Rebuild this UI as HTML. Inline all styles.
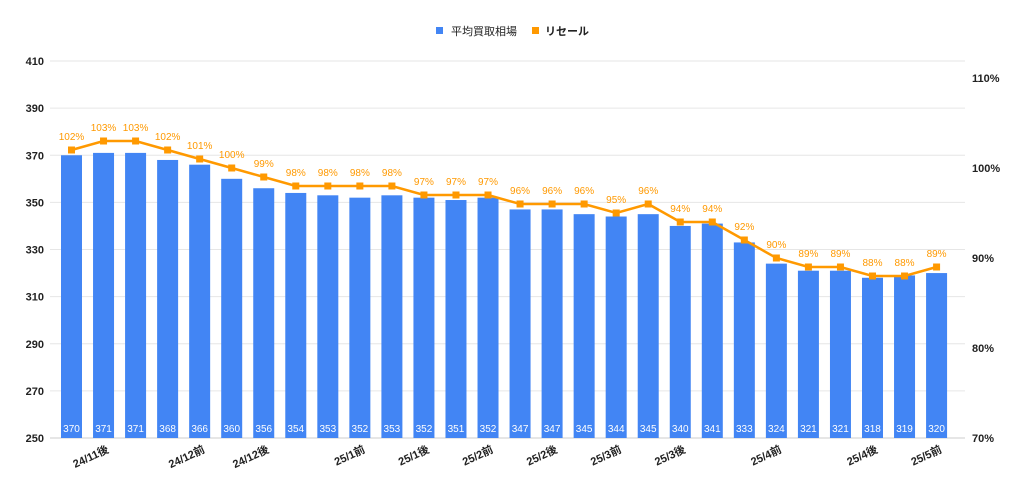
<!DOCTYPE html>
<html><head><meta charset="utf-8"><style>
body{margin:0;background:#fff;width:1024px;height:496px;overflow:hidden}
svg{font-family:"Liberation Sans","Noto Sans CJK JP",sans-serif}
</style></head><body>
<svg id="c" width="1024" height="496"></svg>
<script>
const categories=["24/11前","24/11後","24/11後2","24/12前1","24/12前","24/12前2","24/12後","24/12後2","25/1前1","25/1前","25/1前2","25/1後","25/1後2","25/2前","25/2前2","25/2後","25/2後2","25/3前","25/3前2","25/3後","25/3後2","25/4前1","25/4前","25/4前2","25/4後1","25/4後","25/4後2","25/5前"];
const shownLabels=["24/11後","24/12前","24/12後","25/1前","25/1後","25/2前","25/2後","25/3前","25/3後","25/4前","25/4後","25/5前"];
const priceValues=[370,371,371,368,366,360,356,354,353,352,353,352,351,352,347,347,345,344,345,340,341,333,324,321,321,318,319,320];
const resaleValues=[102,103,103,102,101,100,99,98,98,98,98,97,97,97,96,96,96,95,96,94,94,92,90,89,89,88,88,89];
const leftTicks=[250,270,290,310,330,350,370,390,410];
const rightTicks=[70,80,90,100,110];
const NS="http://www.w3.org/2000/svg",svg=document.getElementById('c');
function mk(t,a,p){const e=document.createElementNS(NS,t);for(const k in a)e.setAttribute(k,a[k]);(p||svg).appendChild(e);return e;}
const yL=v=>438-(v-250)*(377/160);
const yR=v=>438-(v-70)*(360/40);
const xC=i=>71.5+i*32.04;
leftTicks.forEach(t=>{const y=yL(t);
const g=mk('line',{x1:50,x2:965,y1:y,y2:y,stroke:t===250?'#ccc':'#e6e6e6','stroke-width':1});

const l=mk('text',{x:44,y:y+4,'text-anchor':'end','font-size':11,'font-weight':'bold',fill:'#222'});l.textContent=t;
});
rightTicks.forEach(t=>{const l=mk('text',{x:972,y:yR(t)+4,'font-size':11,'font-weight':'bold',fill:'#222'});l.textContent=t+'%';
});
priceValues.forEach((v,i)=>{const x=xC(i);
const b=mk('rect',{x:x-10.5,y:yL(v),width:21,height:438-yL(v),fill:'#4285f4'});

const t=mk('text',{x:x,y:432,'text-anchor':'middle','font-size':10,fill:'#fff'});t.textContent=v;
});
const pts=resaleValues.map((v,i)=>xC(i)+','+yR(v)).join(' ');
const pl=mk('polyline',{points:pts,fill:'none',stroke:'#ff9900','stroke-width':2.5});

resaleValues.forEach((v,i)=>{const x=xC(i),y=yR(v);
const m=mk('rect',{x:x-3.5,y:y-3.5,width:7,height:7,fill:'#ff9900'});

const t=mk('text',{x:x,y:y-10,'text-anchor':'middle','font-size':10,fill:'#ff9900'});t.textContent=v+'%';
});
categories.forEach((c,i)=>{if(!shownLabels.includes(c))return;const x=xC(i)+6,y=452;
const t=mk('text',{x:x,y:y,'text-anchor':'end','font-size':11,'font-weight':'bold',fill:'#222',transform:`rotate(-25 ${x} ${y})`});t.textContent=c;
});
</script>
<svg style="position:absolute;left:0;top:0" width="1024" height="50">
<rect x="436" y="27" width="7" height="7" fill="#4285f4"/>
<text x="451" y="35" font-size="11" fill="#222" font-family="Liberation Sans,Noto Sans CJK JP,sans-serif">平均買取相場</text>
<rect x="532" y="27" width="7" height="7" fill="#ff9900"/>
<text x="545" y="35" font-size="11" fill="#222" font-weight="bold" font-family="Liberation Sans,Noto Sans CJK JP,sans-serif">リセール</text>
</svg>
</body></html>
